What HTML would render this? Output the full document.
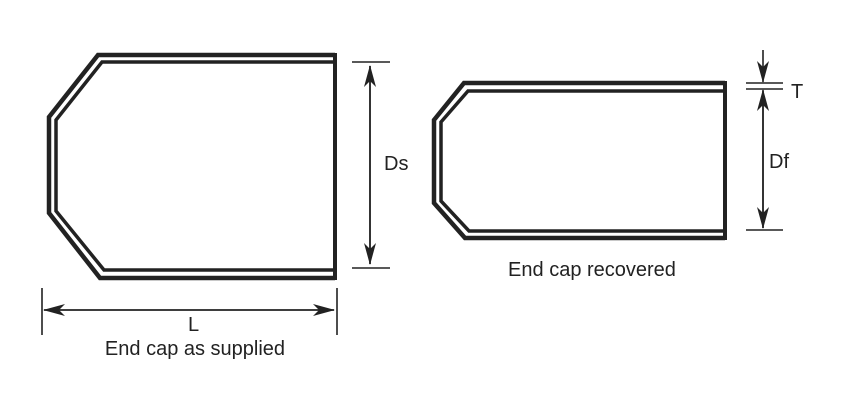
<!DOCTYPE html>
<html><head><style>html,body{margin:0;padding:0;background:#fff}</style></head><body>
<svg width="847" height="408" xmlns="http://www.w3.org/2000/svg" style="display:block">
<defs>
<marker id="b" markerWidth="22" markerHeight="12" refX="21" refY="6" orient="auto" markerUnits="userSpaceOnUse" viewBox="0 0 22 12"><path d="M0,0 L22,6 L0,12 L6,6 Z" fill="#222"/></marker>
</defs>
<g fill="none" stroke="#222" stroke-linejoin="miter">
<polyline points="335,55 98,55 49,117 49,213 100,278 335,278" stroke-width="4.5"/>
<polyline points="335,62 102,62 56,120 56,211 104,270 335,270" stroke-width="3.5"/>
<line x1="335" y1="53" x2="335" y2="280" stroke-width="4"/>
<polyline points="725,83 464,83 434,120 434,203 465,238 725,238" stroke-width="4.5"/>
<polyline points="725,91 468,91 441,122 441,201 469,231 725,231" stroke-width="3.5"/>
<line x1="725" y1="81" x2="725" y2="240" stroke-width="4"/>
</g>
<g stroke="#222" stroke-width="1.6" fill="none">
<line x1="352" y1="62" x2="390" y2="62"/><line x1="352" y1="268" x2="390" y2="268"/>
<line x1="370" y1="66" x2="370" y2="264" marker-end="url(#b)"/>
<line x1="370" y1="264" x2="370" y2="66" marker-end="url(#b)"/>
<line x1="42" y1="288" x2="42" y2="335"/><line x1="337" y1="288" x2="337" y2="335"/>
<line x1="44" y1="310" x2="334" y2="310" marker-end="url(#b)"/>
<line x1="334" y1="310" x2="44" y2="310" marker-end="url(#b)"/>
<line x1="746" y1="83" x2="783" y2="83"/><line x1="746" y1="89" x2="783" y2="89"/>
<line x1="746" y1="230" x2="783" y2="230"/>
<line x1="763" y1="50" x2="763" y2="82" marker-end="url(#b)"/>
<line x1="763" y1="228" x2="763" y2="90" marker-end="url(#b)"/>
<line x1="763" y1="91" x2="763" y2="228" marker-end="url(#b)"/>
</g>
<g font-family="Liberation Sans, sans-serif" font-size="20" fill="#222">
<text x="384" y="170">Ds</text>
<text x="769" y="168">Df</text>
<text x="791" y="98">T</text>
<text x="188" y="331">L</text>
<text x="195" y="355" text-anchor="middle">End cap as supplied</text>
<text x="592" y="276" text-anchor="middle">End cap recovered</text>
</g>
</svg>
</body></html>
